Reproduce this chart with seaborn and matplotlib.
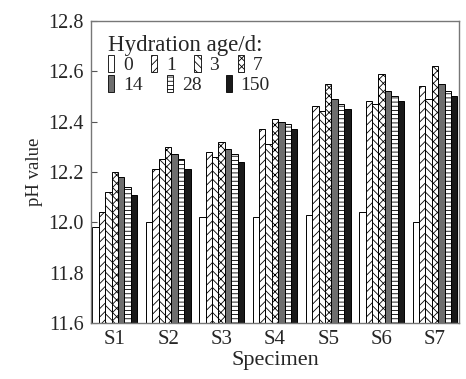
import numpy as np
import pandas as pd
import matplotlib
matplotlib.use("Agg")
import matplotlib.pyplot as plt
from matplotlib.patches import Patch
import seaborn as sns

specimens = ["S1", "S2", "S3", "S4", "S5", "S6", "S7"]
ages = ["0", "1", "3", "7", "14", "28", "150"]
ph_0 = [11.98, 12.00, 12.02, 12.02, 12.03, 12.04, 12.00]
ph_1 = [12.04, 12.21, 12.28, 12.37, 12.46, 12.48, 12.54]
ph_3 = [12.12, 12.25, 12.26, 12.31, 12.44, 12.47, 12.49]
ph_7 = [12.20, 12.30, 12.32, 12.41, 12.55, 12.59, 12.62]
ph_14 = [12.18, 12.27, 12.29, 12.40, 12.49, 12.52, 12.55]
ph_28 = [12.14, 12.25, 12.27, 12.39, 12.47, 12.50, 12.52]
ph_150 = [12.11, 12.21, 12.24, 12.37, 12.45, 12.48, 12.50]
series = [ph_0, ph_1, ph_3, ph_7, ph_14, ph_28, ph_150]

rows = []
for age, vals in zip(ages, series):
    for s, v in zip(specimens, vals):
        rows.append({"Specimen": s, "pH": v, "Age": age})
df = pd.DataFrame(rows)

sns.set_style("ticks")
plt.rcParams["font.family"] = ["Liberation Serif", "DejaVu Serif"]
plt.rcParams["hatch.linewidth"] = 0.6

colors = ["white", "white", "white", "white", "#6e6e6e", "white", "#1a1a1a"]
hatches = ["", "////", "\\\\\\\\", "xxxx", "", "----", ""]

fig = plt.figure(figsize=(4.66, 3.79), dpi=100)
ax = fig.add_axes([0.195, 0.148, 0.79, 0.797])

sns.barplot(data=df, x="Specimen", y="pH", hue="Age", hue_order=ages,
            palette=colors, edgecolor="black", linewidth=0.7, width=0.84,
            ax=ax, legend=False)

for cont, h in zip(ax.containers, hatches):
    for bar in cont:
        bar.set_hatch(h)
        bar.set_edgecolor("black")

ax.set_ylim(11.6, 12.8)
yt = np.arange(11.6, 12.81, 0.2)
ax.set_yticks(yt)
ax.set_yticklabels([f"{v:.1f}" for v in yt])
ax.set_xlim(-0.45, 6.45)
ax.tick_params(axis="y", direction="in", length=4, color="#555555", labelsize=14.5, pad=5)
ax.tick_params(axis="x", length=0, labelsize=15, pad=5)
for sp in ax.spines.values():
    sp.set_color("#777777")
    sp.set_linewidth(1.0)
ax.set_xlabel("Specimen", fontsize=16, labelpad=1.5)
ax.set_ylabel("pH value", fontsize=13.5, labelpad=4)

def mk(i):
    return Patch(facecolor=colors[i], edgecolor="black", hatch=hatches[i],
                 linewidth=0.6, label=ages[i])

ax.text(0.046, 0.901, "Hydration age/d:", transform=ax.transAxes,
        fontsize=16.5, ha="left", va="baseline")

common = dict(frameon=False, fontsize=14, handlelength=0.32, handleheight=0.95,
              handletextpad=0.45, borderpad=0, borderaxespad=0, loc="center left")
leg1 = ax.legend([mk(i) for i in range(4)], ages[:4], ncol=4, columnspacing=0.95,
                 bbox_to_anchor=(0.046, 0.854), **common)
ax.add_artist(leg1)
ax.legend([mk(i) for i in range(4, 7)], ages[4:], ncol=3, columnspacing=1.25,
          bbox_to_anchor=(0.046, 0.79), **common)

fig.savefig("out.png", dpi=100)
